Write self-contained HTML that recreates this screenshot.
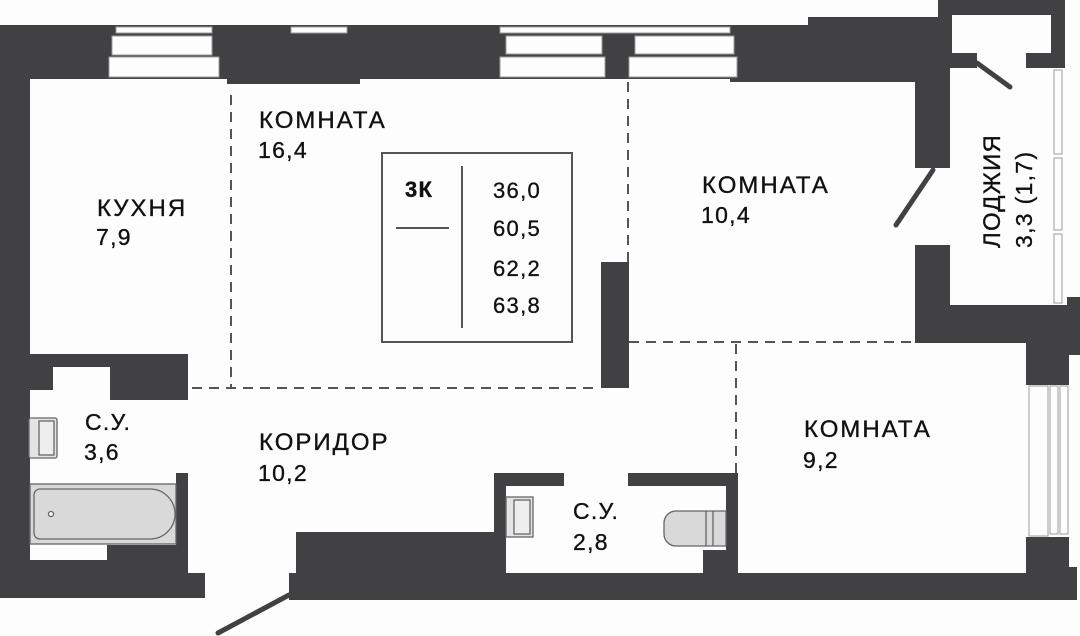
<!DOCTYPE html>
<html><head><meta charset="utf-8"><style>
html,body{margin:0;padding:0;background:#fdfdfd;}
svg{display:block;}
text{font-family:"Liberation Sans",sans-serif;fill:#111;font-size:23px;letter-spacing:1.3px;stroke:#111;stroke-width:0.35px;}
text.w{font-size:24px;letter-spacing:2px;}
</style></head><body>
<svg width="1080" height="636" viewBox="0 0 1080 636" xmlns="http://www.w3.org/2000/svg">
<g fill="#414143">
<rect x="0" y="25" width="810" height="54"/>
<rect x="227" y="70" width="133" height="14"/>
<rect x="730" y="27" width="80" height="55"/>
<rect x="808" y="17" width="130" height="65"/>
<rect x="915" y="60" width="35" height="108"/>
<rect x="938" y="0" width="127" height="15"/>
<rect x="938" y="0" width="14" height="68"/>
<rect x="938" y="53" width="39" height="15"/>
<rect x="1026" y="53" width="39" height="15"/>
<rect x="1051" y="0" width="14" height="68"/>
<rect x="915" y="245" width="35" height="98"/>
<rect x="915" y="305" width="165" height="38"/>
<rect x="1067" y="297" width="13" height="58"/>
<rect x="1026" y="305" width="43" height="80"/>
<rect x="0" y="25" width="30" height="573"/>
<rect x="0" y="354" width="188" height="13"/>
<rect x="0" y="354" width="53" height="36"/>
<rect x="110" y="354" width="78" height="46"/>
<rect x="176" y="473" width="12" height="100"/>
<rect x="107" y="545" width="81" height="20"/>
<rect x="0" y="560" width="188" height="38"/>
<rect x="0" y="573" width="205" height="25"/>
<rect x="601" y="262" width="28" height="126"/>
<rect x="296" y="532" width="210" height="68"/>
<rect x="289" y="573" width="20" height="27"/>
<rect x="494" y="473" width="12" height="127"/>
<rect x="494" y="473" width="70" height="13"/>
<rect x="628" y="473" width="110" height="13"/>
<rect x="726" y="473" width="12" height="100"/>
<rect x="703" y="550" width="35" height="23"/>
<rect x="296" y="573" width="781" height="27"/>
<rect x="1026" y="537" width="43" height="40"/>
<rect x="1069" y="567" width="8" height="33"/>
</g>
<g fill="#fdfdfd" stroke="#9a9a9a" stroke-width="1">
<rect x="116" y="27" width="96" height="6"/>
<rect x="112" y="36" width="100" height="19"/>
<rect x="109" y="57" width="110" height="20"/>
<rect x="291" y="27" width="56" height="6"/>
<rect x="500" y="27" width="230" height="6"/>
<rect x="506" y="36" width="96" height="18"/>
<rect x="635" y="36" width="99" height="18"/>
<rect x="500" y="57" width="105" height="20"/>
<rect x="629" y="57" width="108" height="20"/>
<rect x="1054" y="70" width="8" height="84"/>
<rect x="1054" y="158" width="8" height="72"/>
<rect x="1054" y="234" width="8" height="69"/>
<rect x="1029" y="386" width="19" height="150"/>
<rect x="1050" y="386" width="8" height="148"/>
<rect x="1060" y="386" width="8" height="148"/>
</g>
<g stroke="#414143" stroke-width="5" stroke-linecap="round">
<line x1="933" y1="170" x2="896" y2="225"/>
<line x1="977" y1="63" x2="1010" y2="87"/>
<line x1="289" y1="595" x2="218" y2="633"/>
</g>
<g stroke="#555" stroke-width="2" stroke-dasharray="10 7" fill="none">
<line x1="231" y1="95" x2="231" y2="388"/>
<line x1="192" y1="388" x2="600" y2="388"/>
<line x1="628" y1="82" x2="628" y2="262"/>
<line x1="629" y1="342" x2="915" y2="342"/>
<line x1="736" y1="344" x2="736" y2="473"/>
</g>
<rect x="382" y="153" width="190" height="189" fill="none" stroke="#555" stroke-width="2"/>
<line x1="462" y1="166" x2="462" y2="328" stroke="#555" stroke-width="2"/>
<line x1="396" y1="228" x2="449" y2="228" stroke="#555" stroke-width="2"/>
<g stroke="#666" stroke-width="1.3">
<rect x="29" y="418" width="28" height="40" rx="2" fill="#e4e4e4"/>
<rect x="39" y="421" width="15" height="34" fill="#eee"/>
<rect x="30" y="484" width="146" height="60" fill="#d9d9d9"/>
<path d="M40 489 H150 A25 25 0 0 1 150 539 H40 A6 6 0 0 1 34 533 V495 A6 6 0 0 1 40 489Z" fill="#d9d9d9"/>
<circle cx="51" cy="514" r="2.5" fill="#fff"/>
<rect x="506" y="497" width="27" height="40" fill="#e4e4e4"/>
<rect x="514" y="500" width="16" height="34" fill="#eee"/>
<path d="M676 511 H726 V546 H676 A12 12 0 0 1 664 534 V523 A12 12 0 0 1 676 511Z" fill="#d9d9d9"/>
<line x1="706" y1="511" x2="706" y2="546"/>
<line x1="713" y1="511" x2="713" y2="546"/>
</g>
<text class="w" x="259" y="128">КОМНАТА</text><text x="258" y="158">16,4</text>
<text class="w" x="97" y="216">КУХНЯ</text><text x="96" y="245">7,9</text>
<text x="405" y="197" style="font-weight:bold;font-size:22px">3К</text>
<text x="493" y="198" style="font-size:22px">36,0</text>
<text x="493" y="236" style="font-size:22px">60,5</text>
<text x="493" y="276" style="font-size:22px">62,2</text>
<text x="493" y="313" style="font-size:22px">63,8</text>
<text class="w" x="702" y="193">КОМНАТА</text><text x="701" y="223">10,4</text>
<text class="w" transform="translate(1000,248) rotate(-90)" style="letter-spacing:1.2px">ЛОДЖИЯ</text>
<text transform="translate(1032,248) rotate(-90)">3,3 (1,7)</text>
<text x="85" y="430">С.У.</text><text x="84" y="460">3,6</text>
<text class="w" x="259" y="450">КОРИДОР</text><text x="258" y="481">10,2</text>
<text x="573" y="519">С.У.</text><text x="573" y="550">2,8</text>
<text class="w" x="804" y="437">КОМНАТА</text><text x="803" y="468">9,2</text>
</svg>
</body></html>
